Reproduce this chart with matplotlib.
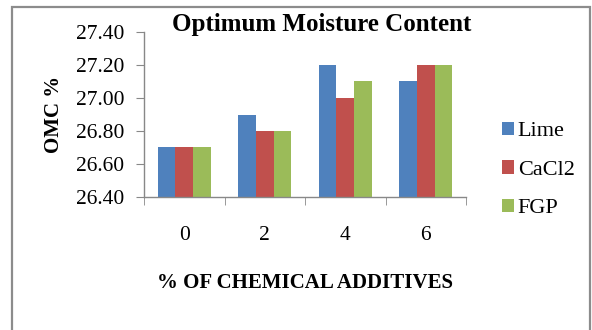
import matplotlib
matplotlib.use("Agg")
import matplotlib.pyplot as plt
from matplotlib.patches import Rectangle
import numpy as np

categories = ["0", "2", "4", "6"]
series_names = ["Lime", "CaCl2", "FGP"]
lime = [26.70, 26.90, 27.20, 27.10]
cacl2 = [26.70, 26.80, 27.00, 27.20]
fgp = [26.70, 26.80, 27.10, 27.20]
yticks = [26.40, 26.60, 26.80, 27.00, 27.20, 27.40]
colors = ["#4F81BD", "#C0504D", "#9BBB59"]

plt.rcParams["font.family"] = ["Liberation Serif", "DejaVu Serif"]

W, H = 592, 330
fig = plt.figure(figsize=(W / 100, H / 100), dpi=100)

# outer chart-area frame
fig.patches.append(Rectangle((12 / W, -0.05), (590 - 12) / W, (H - 6.5) / H + 0.05,
                             transform=fig.transFigure, fill=False,
                             edgecolor="#8c8c8c", linewidth=1.6))

ax = fig.add_axes([144 / W, 1 - 197 / H, (466 - 144) / W, (197 - 32) / H])

x = np.arange(len(categories))
bw = 0.22
handles = []
for i, (vals, name) in enumerate(zip([lime, cacl2, fgp], series_names)):
    b = ax.bar(x + (i - 1) * bw, np.array(vals) - yticks[0], bw, bottom=yticks[0],
               color=colors[i], label=name, linewidth=0)
    handles.append(b)

ax.set_xlim(-0.5, len(categories) - 0.5)
ax.set_ylim(yticks[0], yticks[-1])
ax.set_yticks(yticks)
ax.set_yticklabels([f"{v:.2f}" for v in yticks], fontsize=15.5)
ax.set_xticks(x)
ax.set_xticklabels(categories, fontsize=15.5)
ax.tick_params(axis="x", length=0, pad=21)
ax.set_xticks(np.arange(-0.5, len(categories), 1.0), minor=True)
ax.tick_params(axis="x", which="minor", length=6, color="#888888", direction="out")
ax.tick_params(axis="y", length=6, color="#888888", direction="out", pad=8)

for s in ["top", "right"]:
    ax.spines[s].set_visible(False)
for s in ["left", "bottom"]:
    ax.spines[s].set_color("#888888")
    ax.spines[s].set_linewidth(1.0)

ax.set_ylabel("OMC %", fontsize=15, fontweight="bold", labelpad=9)
ax.set_xlabel("% OF CHEMICAL ADDITIVES", fontsize=15, fontweight="bold", labelpad=20)

fig.text(322 / W, 1 - 25 / H, "Optimum Moisture Content", fontsize=18,
         fontweight="bold", ha="center", va="center")

fig.legend(handles=handles, labels=series_names, loc="center left",
           bbox_to_anchor=(491 / W, 1 - 170 / H), frameon=False, fontsize=16,
           handlelength=0.55, handleheight=0.55, handletextpad=0.15,
           labelspacing=0.85, borderpad=0)

fig.savefig("out.png", dpi=100)
